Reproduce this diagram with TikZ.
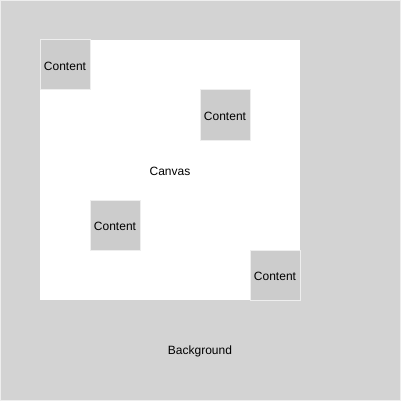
\documentclass[tikz,border=0pt]{standalone}
\usepackage{fontspec}
\setmainfont{Liberation Sans}
\definecolor{bggray}{HTML}{D3D3D3}
\definecolor{boxgray}{HTML}{CCCCCC}
\definecolor{edgegray}{HTML}{EEEEEE}
\newcommand{\lowered}[1]{\raisebox{-1pt}[\height][\depth]{#1}}
\begin{document}
\begin{tikzpicture}[x=1pt,y=-1pt,
  area/.style={draw=edgegray,line width=1pt,anchor=north west,inner sep=0pt,outer sep=0pt},
  contentbox/.style={area,fill=boxgray,minimum width=50pt,minimum height=50pt,font=\fontsize{12}{14}\selectfont},
  lbl/.style={font=\fontsize{12}{14}\selectfont,inner sep=0pt}]
\useasboundingbox (0,0) rectangle (401,401);
\node[area,fill=bggray,minimum width=400pt,minimum height=400pt] (bg) at (0.5,0.5) {};
\node[area,draw=none,fill=white,minimum width=260pt,minimum height=260pt] (canvas) at (40,40) {};
\node[lbl] (canvaslbl) at (170,171) {Canvas};
\node[lbl] (bglbl) at (200,351) {Background};
\node[contentbox] (c1) at (40,40) {\lowered{Content}};
\node[contentbox] (c2) at (200,90) {\lowered{Content}};
\node[contentbox] (c3) at (90,200) {\lowered{Content}};
\node[contentbox] (c4) at (250,250) {\lowered{Content}};
\end{tikzpicture}
\end{document}
